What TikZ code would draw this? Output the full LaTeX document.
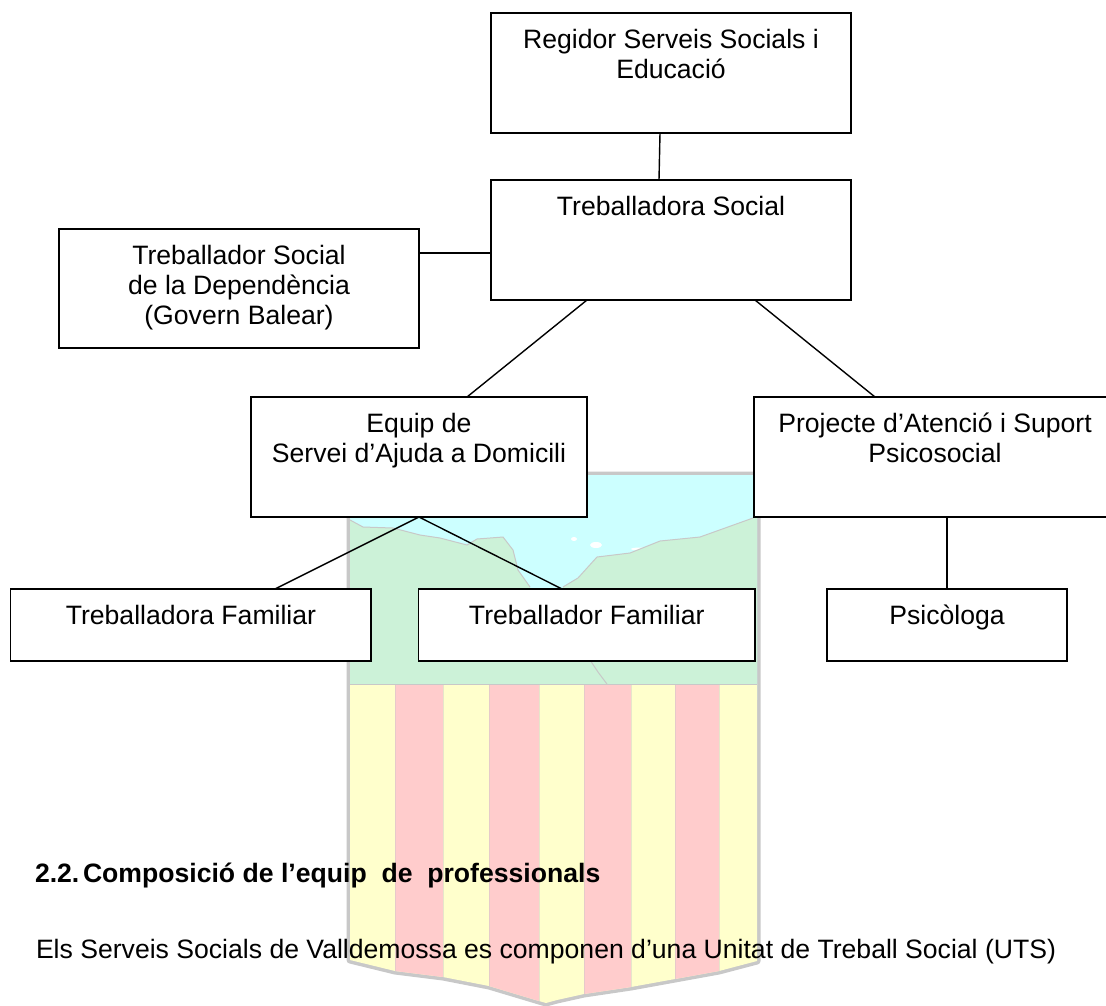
\documentclass[tikz,border=0pt]{standalone}
\usepackage{fontspec}
\setmainfont{Liberation Sans}
\definecolor{shieldgray}{HTML}{C8C8C8}
\definecolor{sea}{HTML}{CCFFFF}
\definecolor{land}{HTML}{CCF2D8}
\definecolor{barY}{HTML}{FFFFCC}
\definecolor{barR}{HTML}{FFCCCC}
\tikzset{
  orgbox/.style={draw=black,line width=1.5pt,fill=white,inner sep=0pt,outer sep=0pt,anchor=north west},
  orgline/.style={draw=black,line width=1.4pt},
  plaintext/.style={inner sep=0pt,outer sep=0pt,anchor=base west},
  coast/.style={draw=shieldgray,line width=1pt},
  seam/.style={draw=shieldgray,line width=0.6pt,opacity=0.45}
}
\newcommand{\orgnode}[6]{%
  \node[orgbox,minimum width=#4pt,minimum height=#5pt] (#1) at (#2,#3)
    {\parbox[c][#5pt][t]{#4pt}{\centering\fontsize{26.6}{30.3}\selectfont\rule{0pt}{35pt}#6\par}};}
\begin{document}
\begin{tikzpicture}[x=1pt,y=-1pt]
\useasboundingbox (0,0) rectangle (1106,1005);
\fill[white] (0,0) rectangle (1106,1005);
% shield
\def\shieldpath{(350,475) -- (757,475) -- (757,961) -- (719,971) -- (675,979) -- (631,987) -- (584,994) -- (557,1000) -- (546,1003) -- (539,1001) -- (489,986) -- (443,977) -- (395,971) -- (350,960) -- cycle}
\draw[shieldgray,line width=7pt,line join=round] \shieldpath;
\begin{scope}
\clip \shieldpath;
\fill[sea] (340,470) rectangle (770,700);
\fill[white] (596,545) ellipse (6pt and 3pt);
\fill[white] (574,539) ellipse (3pt and 2pt);
\fill[white] (640,549) ellipse (9pt and 1.5pt);
\fill[land] (340,518) -- (350,520) -- (363,527) -- (393,528) -- (420,535) -- (440,538) -- (467,545) -- (477,539) -- (503,537) -- (513,550) -- (518,570) -- (530,587) -- (532,595) -- (560,595) -- (563,587) -- (578,578) -- (597,557) -- (630,553) -- (660,541) -- (700,537) -- (753,518) -- (770,516) -- (770,684) -- (340,684) -- cycle;
\draw[coast] (350,520) -- (363,527) -- (393,528) -- (420,535) -- (440,538) -- (467,545) -- (477,539) -- (503,537) -- (513,550) -- (518,570) -- (530,587);
\draw[coast] (563,587) -- (578,578) -- (597,557) -- (630,553) -- (660,541) -- (700,537) -- (753,518);
\draw[coast] (590,660) -- (598,672) -- (607,684);
\fill[barY] (340,684) rectangle (770,1010);
\fill[barR] (395,684) rectangle (443,1010);
\fill[barR] (489,684) rectangle (539,1010);
\fill[barR] (584,684) rectangle (631,1010);
\fill[barR] (675,684) rectangle (719,1010);
\draw[coast] (350,684) -- (757,684);
\foreach \sx in {395,443,489,539,584,631,675,719}{\draw[seam] (\sx,684) -- (\sx,1010);}
\end{scope}
% boxes
\orgnode{reg}{491}{13}{360}{120}{Regidor Serveis Socials i\\Educació}
\orgnode{ts}{491}{180}{360}{120}{Treballadora Social}
\orgnode{dep}{59}{229}{360}{119}{Treballador Social\\de la Dependència\\(Govern Balear)}
\orgnode{sad}{251}{397}{336}{120}{Equip de\\Servei d’Ajuda a Domicili}
\orgnode{pro}{754}{397}{362}{120}{Projecte d’Atenció i Suport\\Psicosocial}
\orgnode{tfa}{10.7}{589}{360.5}{72}{Treballadora Familiar}
\orgnode{tfo}{418.5}{589}{336.5}{72}{Treballador Familiar}
\orgnode{psi}{827}{589}{240}{72}{Psicòloga}
% connectors
\draw[orgline] (reg.south -| 660,0) -- (ts.north -| 659,0);
\draw[orgline] (dep.east |- 0,253) -- (ts.west |- 0,253);
\draw[orgline] (ts.south -| 587,0) -- (sad.north -| 467,0);
\draw[orgline] (ts.south -| 755,0) -- (pro.north -| 875,0);
\draw[orgline] (pro.south -| 947,0) -- (psi.north -| 947,0);
\draw[orgline] (sad.south) -- (tfa.north -| 275,0);
\draw[orgline] (sad.south) -- (tfo.north -| 562,0);
% text
\node[plaintext] (num) at (35,882) {\fontsize{26.6}{30}\selectfont\bfseries 2.2.};
\node[plaintext] (head) at (83,882) {\fontsize{26.6}{30}\selectfont\bfseries Composició de l’equip\ \ de\ \ professionals};
\node[plaintext] (body) at (36,958) {\fontsize{26.6}{30}\selectfont Els Serveis Socials de Valldemossa es componen d’una Unitat de Treball Social (UTS)};
\end{tikzpicture}
\end{document}
